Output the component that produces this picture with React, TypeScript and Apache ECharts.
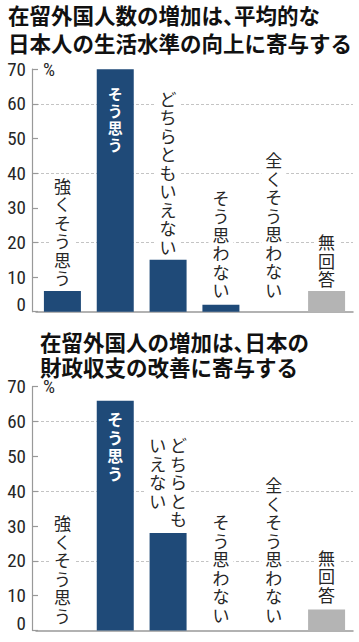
import React, { useEffect, useRef } from 'react';
import * as echarts from 'echarts';

const categories = ['強くそう思う', 'そう思う', 'どちらともいえない', 'そう思わない', '全くそう思わない', '無回答'];
const livingStandardValues = [6, 70, 15, 2, 0, 6];
const fiscalBalanceValues = [0, 66, 28, 0, 0, 6];
const yMin = 0;
const yMax = 70;
const yStep = 10;
const gridStep = 20;
const topTitleLines = ['在留外国人数の増加は、平均的な', '日本人の生活水準の向上に寄与する'];
const bottomTitleLines = ['在留外国人の増加は、日本の', '財政収支の改善に寄与する'];
const unitLabel = '%';
// label splitting for the bottom chart (columns, right to left)
const bottomColumns: Record<number, string[]> = { 2: ['どちらとも', 'いえない'] };

const NAVY = '#1f4a78';
const GRAY = '#b4b4b4';
const TEXT = '#262626';
const AXIS = '#999';
const CJK = "'Noto Sans CJK JP', sans-serif";
const NUM = "'Liberation Sans Narrow', 'Roboto Condensed', Roboto, 'Liberation Sans', sans-serif";

function vertical(text: string) {
  return text.split('').join('\n');
}
function verticalColumns(cols: string[]) {
  const n = Math.max(...cols.map((c) => c.length));
  const rows: string[] = [];
  for (let i = 0; i < n; i++) {
    rows.push(cols.slice().reverse().map((c) => c[i] ?? '\u3000').join(' '));
  }
  return rows.join('\n');
}
// narrow (half-width advance) ideographic comma, as typeset in the reference
function titleText(lines: string[]) {
  return lines.map((l) => l.replace(/、/g, '{p|、}')).join('\n');
}

function buildData(values: number[], dists: number[], columns: Record<number, string[]>, innerSize: number, innerLH: number) {
  return values.map((v, i) => {
    const isMain = i === 1;
    const text = columns[i] ? verticalColumns(columns[i]) : vertical(categories[i]);
    return {
      value: v,
      itemStyle: { color: i === 5 ? GRAY : NAVY },
      label: isMain
        ? {
            show: true,
            position: 'insideTop',
            distance: dists[i],
            formatter: text,
            color: '#fff',
            fontWeight: 'bold',
            fontSize: innerSize,
            lineHeight: innerLH,
            fontFamily: CJK,
            backgroundColor: 'transparent',
            padding: 0,
          }
        : {
            show: true,
            position: 'top',
            distance: dists[i],
            formatter: text,
          },
    };
  });
}

function yAxes(gridIndex: number) {
  return [
    {
      gridIndex,
      type: 'value',
      min: yMin,
      max: yMax,
      interval: yStep,
      offset: 4,
      axisLine: { show: true, lineStyle: { color: AXIS, width: 1.2 } },
      axisTick: { show: true, inside: true, length: 6, lineStyle: { color: AXIS, width: 1.2 } },
      axisLabel: { color: TEXT, fontSize: 19, lineHeight: 14, fontFamily: NUM, margin: 6, verticalAlignMinLabel: 'bottom' },
      splitLine: { show: false },
      name: unitLabel,
      nameLocation: 'end',
      nameGap: 0,
      nameTextStyle: { color: TEXT, fontSize: 19, lineHeight: 14, fontFamily: NUM, align: 'left', verticalAlign: 'middle', padding: [6, 0, 0, 11] },
    },
    {
      gridIndex,
      type: 'value',
      position: 'left',
      min: yMin,
      max: yMax,
      interval: gridStep,
      axisLine: { show: false },
      axisTick: { show: false },
      axisLabel: { show: false },
      splitLine: { show: true, showMinLine: false, showMaxLine: false, lineStyle: { color: '#c4c4c4', width: 1, type: [3, 2] } },
    },
  ];
}

export default function App() {
  const ref = useRef<HTMLDivElement>(null);
  useEffect(() => {
    if (!ref.current) return;
    const chart = echarts.init(ref.current, null, { renderer: 'svg' });
    const labelBase = {
      color: TEXT,
      fontSize: 17,
      lineHeight: 18.5,
      fontFamily: CJK,
      backgroundColor: '#fff',
      padding: [2, 4],
      align: 'center',
    };
    const titleStyle = (lh: number) => {
      const base = { fontSize: 21.5, lineHeight: lh, fontWeight: 'bold', color: '#111', fontFamily: CJK };
      return { ...base, rich: { p: { ...base, width: 11, align: 'left' } } };
    };
    chart.setOption({
      animation: false,
      backgroundColor: '#fff',
      title: [
        {
          text: titleText(topTitleLines),
          left: 8,
          top: 0,
          padding: 0,
          textStyle: titleStyle(28.5),
        },
        {
          text: titleText(bottomTitleLines),
          left: 40,
          top: 329,
          padding: 0,
          textStyle: titleStyle(25),
        },
      ],
      grid: [
        { left: 36, top: 69.2, width: 317, height: 242.5 },
        { left: 36, top: 386.7, width: 317, height: 243.8 },
      ],
      xAxis: [0, 1].map((g) => ({
        gridIndex: g,
        type: 'category',
        data: categories,
        axisLine: { show: true, lineStyle: { color: AXIS, width: 1.5 } },
        axisTick: { show: false },
        axisLabel: { show: false },
      })),
      yAxis: [...yAxes(0), ...yAxes(1)],
      series: [
        {
          type: 'bar',
          xAxisIndex: 0,
          yAxisIndex: 0,
          barWidth: 37,
          label: labelBase,
          data: buildData(livingStandardValues, [2, 16, 2, 4, 11, 1], {}, 15, 17),
        },
        {
          type: 'bar',
          xAxisIndex: 1,
          yAxisIndex: 2,
          barWidth: 37,
          label: labelBase,
          data: buildData(fiscalBalanceValues, [4, 9, 3, 5, 5, 4], bottomColumns, 16, 18),
        },
      ],
    });
    return () => chart.dispose();
  }, []);
  return <div ref={ref} style={{ position: 'fixed', left: 0, top: 0, width: 359, height: 642, background: '#fff' }} />;
}
